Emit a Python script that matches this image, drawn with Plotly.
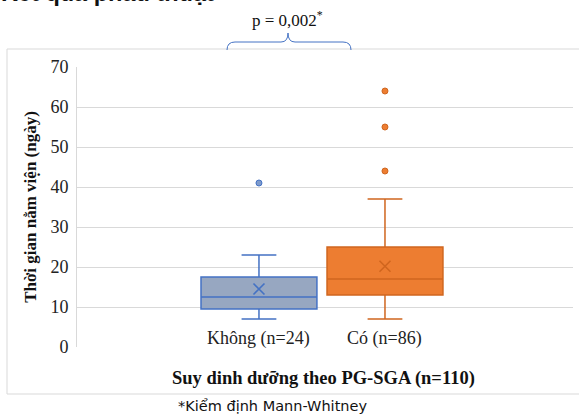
import plotly.graph_objects as go

# ---- data ----
categories = ["Không (n=24)", "Có (n=86)"]
q1 = [9.5, 13]
median = [12.5, 17]
q3 = [17.5, 25]
lower = [7, 7]
upper = [23, 37]
means = [14.5, 20.2]
outliers = [[41], [44, 55, 64]]
y_ticks = [0, 10, 20, 30, 40, 50, 60, 70]

fills = ["#97A7C1", "#ED7D31"]
lines = ["#4472C4", "#D0661F"]
pt_fill = ["#7F9BCB", "#ED7D31"]

W, H = 579, 416
L, R, T, B = 77, 6, 67, 69
PW, PH = W - L - R, H - T - B


def px(x):
    return (x - L) / PW


def py(y):
    return (H - B - y) / PH


fig = go.Figure()
for i, c in enumerate(categories):
    fig.add_trace(go.Box(
        x=[c], q1=[q1[i]], median=[median[i]], q3=[q3[i]],
        lowerfence=[lower[i]], upperfence=[upper[i]],
        boxpoints=False, width=0.92, whiskerwidth=0.3,
        fillcolor=fills[i], line=dict(color=lines[i], width=1.5),
        showlegend=False, hoverinfo="skip"))
    fig.add_trace(go.Scatter(
        x=[c] * len(outliers[i]), y=outliers[i], mode="markers",
        marker=dict(size=6, color=pt_fill[i], line=dict(color=lines[i], width=1)),
        showlegend=False))
    fig.add_trace(go.Scatter(
        x=[c], y=[means[i]], mode="markers",
        marker=dict(symbol="x-thin", size=11, line=dict(color=lines[i], width=1.6)),
        showlegend=False))

# category labels inside plot area
for i, c in enumerate(categories):
    fig.add_annotation(x=c, y=2.2, xref="x", yref="y", text=c, showarrow=False,
                       font=dict(family="Liberation Serif", size=18, color="#222"),
                       yanchor="middle")

# brace + p value
brace = (f"M {px(227)},{py(50)} Q {px(227)},{py(42)} {px(235)},{py(42)} "
         f"L {px(281)},{py(42)} Q {px(288)},{py(42)} {px(288)},{py(33)} "
         f"Q {px(288)},{py(42)} {px(295)},{py(42)} "
         f"L {px(343)},{py(42)} Q {px(351)},{py(42)} {px(351)},{py(50)}")
fig.add_shape(type="path", path=brace, xref="paper", yref="paper",
              line=dict(color="#4472C4", width=1))
fig.add_annotation(x=px(287), y=py(19), xref="paper", yref="paper",
                   text="p = 0,002<sup>*</sup>", showarrow=False,
                   font=dict(family="Liberation Serif", size=17, color="#111"),
                   yanchor="middle")

# outer chart border
fig.add_shape(type="rect", xref="paper", yref="paper",
              x0=px(7), x1=px(600), y0=py(394), y1=py(49),
              line=dict(color="#D9D9D9", width=1), layer="below")

# clipped heading at top
fig.add_annotation(x=px(-1), y=py(8), xref="paper", yref="paper",
                   text="<b>Kết quả phẫu thuật</b>", showarrow=False,
                   xanchor="left", yanchor="bottom",
                   font=dict(family="Liberation Sans", size=23.5, color="#111"))

# x axis title
fig.add_annotation(x=px(323), y=py(378), xref="paper", yref="paper",
                   text="<b>Suy dinh dưỡng theo PG-SGA (n=110)</b>", showarrow=False,
                   yanchor="middle",
                   font=dict(family="Liberation Serif", size=18.5, color="#111"))

# footnote
fig.add_annotation(x=px(272), y=py(406), xref="paper", yref="paper",
                   text="*Kiểm định Mann-Whitney", showarrow=False,
                   yanchor="middle",
                   font=dict(family="DejaVu Sans", size=14.5, color="#111"))

fig.update_layout(
    width=W, height=H,
    margin=dict(l=L, r=R, t=T, b=B),
    paper_bgcolor="white", plot_bgcolor="white",
    xaxis=dict(type="category", range=[-1.444, 2.492], showticklabels=False,
               showgrid=False, zeroline=False, showline=False, ticks=""),
    yaxis=dict(range=[0, 70], tickvals=y_ticks, showgrid=True, gridcolor="#D9D9D9",
               gridwidth=1, zeroline=False, showline=True, linecolor="#D9D9D9",
               ticks="", ticklabelstandoff=4,
               tickfont=dict(family="Liberation Serif", size=18, color="#222"),
               title=dict(text="<b>Thời gian nằm viện (ngày)</b>", standoff=9,
                          font=dict(family="Liberation Serif", size=17, color="#111"))),
)

fig.write_html("out.html", config={"displayModeBar": False},
               post_script="document.body.style.margin='0';document.body.style.overflow='hidden';")
